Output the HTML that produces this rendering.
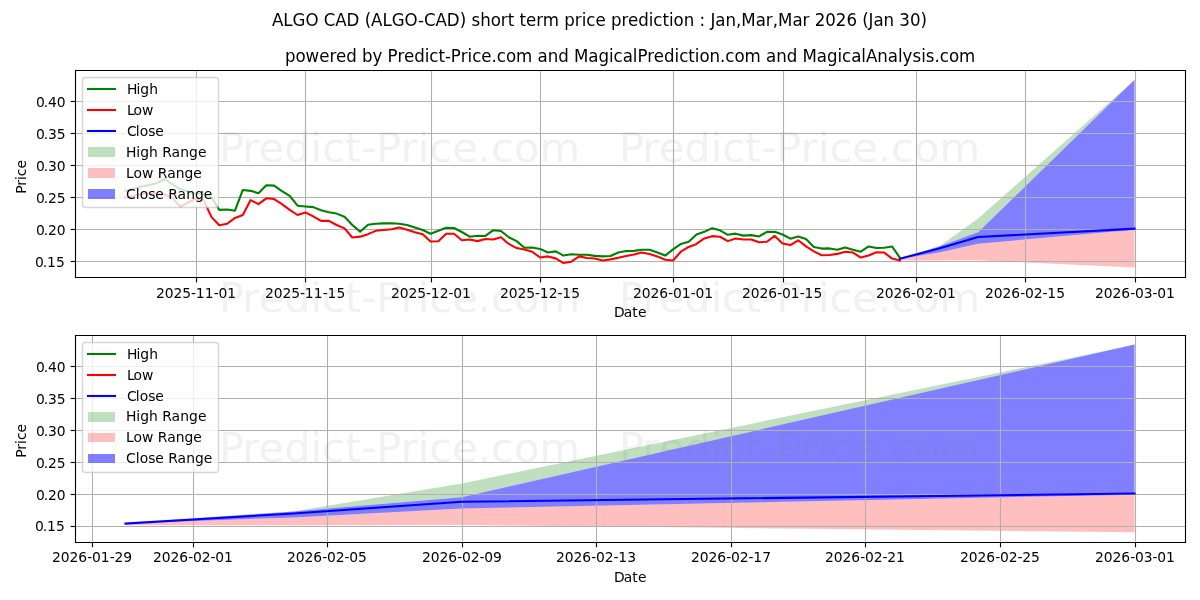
<!DOCTYPE html>
<html lang="en">
<head>
<meta charset="utf-8">
<title>ALGO CAD (ALGO-CAD) short term price prediction</title>
<style>html,body{margin:0;padding:0;background:#fff;}body{width:1200px;height:600px;overflow:hidden;font-family:"DejaVu Sans","Liberation Sans",sans-serif;}svg text{font-family:"DejaVu Sans","Liberation Sans",sans-serif;}</style>
</head>
<body>
<svg width="1200" height="600" viewBox="0 0 864 432" style="display:block">
 <defs>
  <style type="text/css">*{stroke-linejoin: round; stroke-linecap: butt}</style>
 </defs>
 <g id="figure_1">
  <g id="patch_1">
   <path d="M 0 432 L 864 432 L 864 0 L 0 0 z" style="fill: #ffffff"/>
  </g>
  <g id="axes_1">
   <g id="patch_2">
    <path d="M 54 199.44 L 853.2 199.44 L 853.2 50.4 L 54 50.4 z" style="fill: #ffffff"/>
   </g>
   <g id="FillBetweenPolyCollection_1">
    <path d="M 647.913805 185.564082 
L 647.913805 186.299864 
L 676.073777 177.516463 
L 704.233749 167.307483 
L 816.873636 57.4 
L 816.873636 57.537959 
L 816.873636 57.537959 
L 704.233749 157.374422 
L 676.073777 177.516463 
L 647.913805 185.564082 
z
" clip-path="url(#p9297a73124)" style="fill: #008000; fill-opacity: 0.25"/>
   </g>
   <g id="FillBetweenPolyCollection_2">
    <path d="M 647.913805 186.299864 
L 647.913805 187.587483 
L 676.073777 187.587483 
L 704.233749 187.311565 
L 816.873636 192.6 
L 816.873636 165.468027 
L 816.873636 165.468027 
L 704.233749 175.493061 
L 676.073777 181.839184 
L 647.913805 186.299864 
z
" clip-path="url(#p9297a73124)" style="fill: #ff0000; fill-opacity: 0.25"/>
   </g>
   <g id="FillBetweenPolyCollection_3">
    <path d="M 647.913805 186.299864 
L 647.913805 186.299864 
L 676.073777 181.839184 
L 704.233749 175.493061 
L 816.873636 165.468027 
L 816.873636 57.4 
L 816.873636 57.4 
L 704.233749 167.307483 
L 676.073777 177.516463 
L 647.913805 186.299864 
z
" clip-path="url(#p9297a73124)" style="fill: #0000ff; fill-opacity: 0.5"/>
   </g>
   <g id="matplotlib.axis_1">
    <g id="xtick_1">
     <g id="line2d_1">
      <path d="M 141.48 199.8 L 141.48 50.76" clip-path="url(#p9297a73124)" style="fill: none; stroke: #b0b0b0; stroke-width: 0.8; stroke-linecap: square"/>
     </g>
     <g id="line2d_2">
      <defs>
       <path id="m52d849d414" d="M 0 0 
L 0 3.5 
" style="stroke: #000000; stroke-width: 0.8"/>
      </defs>
      <g>
       <use href="#m52d849d414" x="141.48" y="199.8" style="stroke: #000000; stroke-width: 0.8"/>
      </g>
     </g>
     <g id="text_1">
      <text style="font-size: 10px; font-family: 'DejaVu Sans', 'Liberation Sans', sans-serif; text-anchor: start" transform="translate(112.32 214.56) scale(1 1)" x="0 6.3 12.6 18.9 25.2 28.71 35.1 41.49 45 51.3" y="0">2025-11-01</text>
     </g>
    </g>
    <g id="xtick_2">
     <g id="line2d_3">
      <path d="M 219.96 199.8 L 219.96 50.76" clip-path="url(#p9297a73124)" style="fill: none; stroke: #b0b0b0; stroke-width: 0.8; stroke-linecap: square"/>
     </g>
     <g id="line2d_4">
      <g>
       <use href="#m52d849d414" x="219.96" y="199.8" style="stroke: #000000; stroke-width: 0.8"/>
      </g>
     </g>
     <g id="text_2">
      <text style="font-size: 10px; font-family: 'DejaVu Sans', 'Liberation Sans', sans-serif; text-anchor: start" transform="translate(190.8 214.56) scale(1 1)" x="0 6.3 12.6 18.9 25.2 28.71 35.1 41.49 45 51.39" y="0">2025-11-15</text>
     </g>
    </g>
    <g id="xtick_3">
     <g id="line2d_5">
      <path d="M 310.68 199.8 L 310.68 50.76" clip-path="url(#p9297a73124)" style="fill: none; stroke: #b0b0b0; stroke-width: 0.8; stroke-linecap: square"/>
     </g>
     <g id="line2d_6">
      <g>
       <use href="#m52d849d414" x="310.68" y="199.8" style="stroke: #000000; stroke-width: 0.8"/>
      </g>
     </g>
     <g id="text_3">
      <text style="font-size: 10px; font-family: 'DejaVu Sans', 'Liberation Sans', sans-serif; text-anchor: start" transform="translate(281.52 214.56) scale(1 1)" x="0 6.3 12.6 18.9 25.2 28.71 35.1 41.4 44.91 51.21" y="0">2025-12-01</text>
     </g>
    </g>
    <g id="xtick_4">
     <g id="line2d_7">
      <path d="M 389.16 199.8 L 389.16 50.76" clip-path="url(#p9297a73124)" style="fill: none; stroke: #b0b0b0; stroke-width: 0.8; stroke-linecap: square"/>
     </g>
     <g id="line2d_8">
      <g>
       <use href="#m52d849d414" x="389.16" y="199.8" style="stroke: #000000; stroke-width: 0.8"/>
      </g>
     </g>
     <g id="text_4">
      <text style="font-size: 10px; font-family: 'DejaVu Sans', 'Liberation Sans', sans-serif; text-anchor: start" transform="translate(360 214.56) scale(1 1)" x="0 6.3 12.6 18.9 25.2 28.71 35.1 41.4 44.91 51.3" y="0">2025-12-15</text>
     </g>
    </g>
    <g id="xtick_5">
     <g id="line2d_9">
      <path d="M 484.92 199.8 L 484.92 50.76" clip-path="url(#p9297a73124)" style="fill: none; stroke: #b0b0b0; stroke-width: 0.8; stroke-linecap: square"/>
     </g>
     <g id="line2d_10">
      <g>
       <use href="#m52d849d414" x="484.92" y="199.8" style="stroke: #000000; stroke-width: 0.8"/>
      </g>
     </g>
     <g id="text_5">
      <text style="font-size: 10px; font-family: 'DejaVu Sans', 'Liberation Sans', sans-serif; text-anchor: start" transform="translate(455.76 214.56) scale(1 1)" x="0 6.3 12.6 18.9 25.29 28.8 35.1 41.49 45 51.3" y="0">2026-01-01</text>
     </g>
    </g>
    <g id="xtick_6">
     <g id="line2d_11">
      <path d="M 564.12 199.8 L 564.12 50.76" clip-path="url(#p9297a73124)" style="fill: none; stroke: #b0b0b0; stroke-width: 0.8; stroke-linecap: square"/>
     </g>
     <g id="line2d_12">
      <g>
       <use href="#m52d849d414" x="564.12" y="199.8" style="stroke: #000000; stroke-width: 0.8"/>
      </g>
     </g>
     <g id="text_6">
      <text style="font-size: 10px; font-family: 'DejaVu Sans', 'Liberation Sans', sans-serif; text-anchor: start" transform="translate(534.24 214.56) scale(1 1)" x="0 6.3 12.6 18.9 25.29 28.8 35.1 41.49 45 51.39" y="0">2026-01-15</text>
     </g>
    </g>
    <g id="xtick_7">
     <g id="line2d_13">
      <path d="M 659.88 199.8 L 659.88 50.76" clip-path="url(#p9297a73124)" style="fill: none; stroke: #b0b0b0; stroke-width: 0.8; stroke-linecap: square"/>
     </g>
     <g id="line2d_14">
      <g>
       <use href="#m52d849d414" x="659.88" y="199.8" style="stroke: #000000; stroke-width: 0.8"/>
      </g>
     </g>
     <g id="text_7">
      <text style="font-size: 10px; font-family: 'DejaVu Sans', 'Liberation Sans', sans-serif; text-anchor: start" transform="translate(630.72 214.56) scale(1 1)" x="0 6.3 12.6 18.9 25.29 28.8 35.1 41.4 44.91 51.21" y="0">2026-02-01</text>
     </g>
    </g>
    <g id="xtick_8">
     <g id="line2d_15">
      <path d="M 738.36 199.8 L 738.36 50.76" clip-path="url(#p9297a73124)" style="fill: none; stroke: #b0b0b0; stroke-width: 0.8; stroke-linecap: square"/>
     </g>
     <g id="line2d_16">
      <g>
       <use href="#m52d849d414" x="738.36" y="199.8" style="stroke: #000000; stroke-width: 0.8"/>
      </g>
     </g>
     <g id="text_8">
      <text style="font-size: 10px; font-family: 'DejaVu Sans', 'Liberation Sans', sans-serif; text-anchor: start" transform="translate(709.2 214.56) scale(1 1)" x="0 6.3 12.6 18.9 25.29 28.8 35.1 41.4 44.91 51.3" y="0">2026-02-15</text>
     </g>
    </g>
    <g id="xtick_9">
     <g id="line2d_17">
      <path d="M 817.56 199.8 L 817.56 50.76" clip-path="url(#p9297a73124)" style="fill: none; stroke: #b0b0b0; stroke-width: 0.8; stroke-linecap: square"/>
     </g>
     <g id="line2d_18">
      <g>
       <use href="#m52d849d414" x="817.56" y="199.8" style="stroke: #000000; stroke-width: 0.8"/>
      </g>
     </g>
     <g id="text_9">
      <text style="font-size: 10px; font-family: 'DejaVu Sans', 'Liberation Sans', sans-serif; text-anchor: start" transform="translate(788.4 214.56) scale(1 1)" x="0 6.3 12.6 18.9 25.29 28.8 35.1 41.4 44.91 51.21" y="0">2026-03-01</text>
     </g>
    </g>
    <g id="text_10">
     <text style="font-size: 10px; font-family: 'DejaVu Sans', 'Liberation Sans', sans-serif; text-anchor: start" transform="translate(442.08 228.24) scale(1 1)" x="0 7.02 13.23 17.19" y="0">Date</text>
    </g>
   </g>
   <g id="matplotlib.axis_2">
    <g id="ytick_1">
     <g id="line2d_19">
      <path d="M 54.36 188.28 L 853.56 188.28" clip-path="url(#p9297a73124)" style="fill: none; stroke: #b0b0b0; stroke-width: 0.8; stroke-linecap: square"/>
     </g>
     <g id="line2d_20">
      <defs>
       <path id="m7fc33ab114" d="M 0 0 
L -3.5 0 
" style="stroke: #000000; stroke-width: 0.8"/>
      </defs>
      <g>
       <use href="#m7fc33ab114" x="54.36" y="188.28" style="stroke: #000000; stroke-width: 0.8"/>
      </g>
     </g>
     <g id="text_11">
      <text style="font-size: 10px; font-family: 'DejaVu Sans', 'Liberation Sans', sans-serif; text-anchor: start" transform="translate(25.2 192.24) scale(1 1)" x="0 5.58 8.73 15.12" y="0">0.15</text>
     </g>
    </g>
    <g id="ytick_2">
     <g id="line2d_21">
      <path d="M 54.36 165.24 L 853.56 165.24" clip-path="url(#p9297a73124)" style="fill: none; stroke: #b0b0b0; stroke-width: 0.8; stroke-linecap: square"/>
     </g>
     <g id="line2d_22">
      <g>
       <use href="#m7fc33ab114" x="54.36" y="165.24" style="stroke: #000000; stroke-width: 0.8"/>
      </g>
     </g>
     <g id="text_12">
      <text style="font-size: 10px; font-family: 'DejaVu Sans', 'Liberation Sans', sans-serif; text-anchor: start" transform="translate(25.92 169.2) scale(1 1)" x="0 5.58 8.73 15.03" y="0">0.20</text>
     </g>
    </g>
    <g id="ytick_3">
     <g id="line2d_23">
      <path d="M 54.36 142.2 L 853.56 142.2" clip-path="url(#p9297a73124)" style="fill: none; stroke: #b0b0b0; stroke-width: 0.8; stroke-linecap: square"/>
     </g>
     <g id="line2d_24">
      <g>
       <use href="#m7fc33ab114" x="54.36" y="142.2" style="stroke: #000000; stroke-width: 0.8"/>
      </g>
     </g>
     <g id="text_13">
      <text style="font-size: 10px; font-family: 'DejaVu Sans', 'Liberation Sans', sans-serif; text-anchor: start" transform="translate(25.92 146.16) scale(1 1)" x="0 5.58 8.73 15.03" y="0">0.25</text>
     </g>
    </g>
    <g id="ytick_4">
     <g id="line2d_25">
      <path d="M 54.36 119.16 L 853.56 119.16" clip-path="url(#p9297a73124)" style="fill: none; stroke: #b0b0b0; stroke-width: 0.8; stroke-linecap: square"/>
     </g>
     <g id="line2d_26">
      <g>
       <use href="#m7fc33ab114" x="54.36" y="119.16" style="stroke: #000000; stroke-width: 0.8"/>
      </g>
     </g>
     <g id="text_14">
      <text style="font-size: 10px; font-family: 'DejaVu Sans', 'Liberation Sans', sans-serif; text-anchor: start" transform="translate(25.92 123.12) scale(1 1)" x="0 5.58 8.73 15.03" y="0">0.30</text>
     </g>
    </g>
    <g id="ytick_5">
     <g id="line2d_27">
      <path d="M 54.36 96.12 L 853.56 96.12" clip-path="url(#p9297a73124)" style="fill: none; stroke: #b0b0b0; stroke-width: 0.8; stroke-linecap: square"/>
     </g>
     <g id="line2d_28">
      <g>
       <use href="#m7fc33ab114" x="54.36" y="96.12" style="stroke: #000000; stroke-width: 0.8"/>
      </g>
     </g>
     <g id="text_15">
      <text style="font-size: 10px; font-family: 'DejaVu Sans', 'Liberation Sans', sans-serif; text-anchor: start" transform="translate(25.92 100.08) scale(1 1)" x="0 5.58 8.73 15.03" y="0">0.35</text>
     </g>
    </g>
    <g id="ytick_6">
     <g id="line2d_29">
      <path d="M 54.36 73.08 L 853.56 73.08" clip-path="url(#p9297a73124)" style="fill: none; stroke: #b0b0b0; stroke-width: 0.8; stroke-linecap: square"/>
     </g>
     <g id="line2d_30">
      <g>
       <use href="#m7fc33ab114" x="54.36" y="73.08" style="stroke: #000000; stroke-width: 0.8"/>
      </g>
     </g>
     <g id="text_16">
      <text style="font-size: 10px; font-family: 'DejaVu Sans', 'Liberation Sans', sans-serif; text-anchor: start" transform="translate(25.92 77.04) scale(1 1)" x="0 5.58 8.73 15.03" y="0">0.40</text>
     </g>
    </g>
    <g id="text_17">
     <text style="font-size: 10px; font-family: 'DejaVu Sans', 'Liberation Sans', sans-serif; text-anchor: middle" x="18.72" y="127.375949" transform="rotate(-90 18.72 127.375949)">Price</text>
    </g>
   </g>
   <g id="line2d_31">
    <path d="M 90.346364 137.416327 
L 95.978358 136.128707 
L 101.610352 134.335238 
L 107.242347 133.277551 
L 112.874341 131.897959 
L 118.506335 128.908844 
L 124.13833 132.817687 
L 129.770324 136.128707 
L 135.402319 137.922177 
L 141.034313 139.439728 
L 146.666307 140.037551 
L 152.298302 142.152925 
L 157.930296 151.120272 
L 163.56229 150.89034 
L 169.194285 151.718095 
L 174.826279 136.772517 
L 180.458273 137.416327 
L 186.090268 139.071837 
L 191.722262 133.41551 
L 197.354257 133.645442 
L 202.986251 137.600272 
L 208.618245 141.003265 
L 214.25024 148.08517 
L 219.882234 148.637007 
L 225.514228 149.142857 
L 231.146223 151.350204 
L 236.778217 152.775782 
L 242.410211 153.787483 
L 248.042206 156.086803 
L 253.6742 162.019048 
L 259.306195 166.801633 
L 264.938189 161.789116 
L 270.570183 161.053333 
L 276.202178 160.823401 
L 281.834172 160.731429 
L 287.466166 161.053333 
L 293.098161 162.019048 
L 298.730155 163.812517 
L 304.362149 165.605986 
L 309.994144 168.319184 
L 315.626138 166.20381 
L 321.258132 163.950476 
L 326.890127 164.180408 
L 332.522121 167.031565 
L 338.154116 170.434558 
L 343.78611 169.790748 
L 349.418104 169.882721 
L 355.050099 165.835918 
L 360.682093 166.341769 
L 366.314087 170.848435 
L 371.946082 173.607619 
L 377.578076 178.390204 
L 383.21007 178.160272 
L 388.842065 179.217959 
L 394.474059 181.839184 
L 400.106054 181.011429 
L 405.738048 184.000544 
L 411.370042 183.03483 
L 417.002037 183.402721 
L 422.634031 183.402721 
L 428.266025 184.230476 
L 433.89802 184.598367 
L 439.530014 184.368435 
L 445.162008 181.839184 
L 450.794003 180.781497 
L 456.425997 180.643537 
L 462.057992 179.815782 
L 467.689986 179.815782 
L 473.32198 181.839184 
L 478.953975 184.000544 
L 484.585969 179.58585 
L 490.217963 175.63102 
L 495.849958 174.067483 
L 501.481952 168.825034 
L 507.113946 166.939592 
L 512.745941 164.272381 
L 518.377935 165.835918 
L 524.00993 169.054966 
L 529.641924 168.227211 
L 535.273918 169.652789 
L 540.905913 169.284898 
L 546.537907 170.250612 
L 552.169901 166.939592 
L 557.801896 166.939592 
L 563.43389 168.825034 
L 569.065884 171.81415 
L 574.697879 170.250612 
L 580.329873 172.044082 
L 585.961868 177.792381 
L 591.593862 178.988027 
L 597.225856 178.850068 
L 602.857851 179.815782 
L 608.489845 178.160272 
L 614.121839 179.815782 
L 619.753834 181.241361 
L 625.385828 177.42449 
L 631.017822 178.620136 
L 636.649817 178.390204 
L 642.281811 177.42449 
L 647.913805 185.564082 
" clip-path="url(#p9297a73124)" style="fill: none; stroke: #008000; stroke-width: 1.5; stroke-linecap: square"/>
   </g>
   <g id="line2d_32">
    <path d="M 90.346364 142.152925 
L 95.978358 141.095238 
L 101.610352 139.715646 
L 107.242347 139.255782 
L 112.874341 139.945578 
L 118.506335 140.037551 
L 124.13833 142.47483 
L 129.770324 148.774966 
L 135.402319 145.78585 
L 141.034313 143.026667 
L 146.666307 144.268299 
L 152.298302 156.316735 
L 157.930296 162.11102 
L 163.56229 161.09932 
L 169.194285 156.914558 
L 174.826279 154.753197 
L 180.458273 144.038367 
L 186.090268 147.027483 
L 191.722262 142.796735 
L 197.354257 143.302585 
L 202.986251 146.93551 
L 208.618245 151.120272 
L 214.25024 154.799184 
L 219.882234 152.959728 
L 225.514228 155.810884 
L 231.146223 159.029932 
L 236.778217 159.029932 
L 242.410211 162.019048 
L 248.042206 164.41034 
L 253.6742 170.986395 
L 259.306195 170.388571 
L 264.938189 168.595102 
L 270.570183 166.20381 
L 276.202178 165.605986 
L 281.834172 165.008163 
L 287.466166 163.812517 
L 293.098161 165.376054 
L 298.730155 167.169524 
L 304.362149 168.595102 
L 309.994144 173.929524 
L 315.626138 173.699592 
L 321.258132 168.319184 
L 326.890127 168.319184 
L 332.522121 173.009796 
L 338.154116 172.457959 
L 343.78611 173.607619 
L 349.418104 172.090068 
L 355.050099 172.411973 
L 360.682093 170.848435 
L 366.314087 175.63102 
L 371.946082 178.620136 
L 377.578076 179.58585 
L 383.21007 181.241361 
L 388.842065 185.426122 
L 394.474059 184.598367 
L 400.106054 186.023946 
L 405.738048 189.380952 
L 411.370042 188.415238 
L 417.002037 184.598367 
L 422.634031 185.794014 
L 428.266025 186.161905 
L 433.89802 187.587483 
L 439.530014 186.759728 
L 445.162008 185.564082 
L 450.794003 184.368435 
L 456.425997 183.172789 
L 462.057992 181.839184 
L 467.689986 182.942857 
L 473.32198 184.598367 
L 478.953975 186.98966 
L 484.585969 187.587483 
L 490.217963 181.241361 
L 495.849958 177.792381 
L 501.481952 175.63102 
L 507.113946 171.67619 
L 512.745941 170.02068 
L 518.377935 170.480544 
L 524.00993 173.607619 
L 529.641924 171.67619 
L 535.273918 172.411973 
L 540.905913 172.411973 
L 546.537907 174.435374 
L 552.169901 174.067483 
L 557.801896 169.882721 
L 563.43389 175.263129 
L 569.065884 176.458776 
L 574.697879 173.009796 
L 580.329873 177.42449 
L 585.961868 181.011429 
L 591.593862 183.770612 
L 597.225856 183.632653 
L 602.857851 182.804898 
L 608.489845 181.241361 
L 614.121839 181.839184 
L 619.753834 185.426122 
L 625.385828 184.000544 
L 631.017822 181.609252 
L 636.649817 181.839184 
L 642.281811 186.161905 
L 647.913805 187.587483 
" clip-path="url(#p9297a73124)" style="fill: none; stroke: #ff0000; stroke-width: 1.5; stroke-linecap: square"/>
   </g>
   <g id="line2d_33">
    <path d="M 647.913805 186.299864 
L 676.073777 178.988027 
L 704.233749 170.618503 
L 816.873636 164.640272 
" clip-path="url(#p9297a73124)" style="fill: none; stroke: #0000ff; stroke-width: 1.5; stroke-linecap: square"/>
   </g>
   <g id="patch_3">
    <path d="M 54.36 199.8 L 54.36 50.76" style="fill: none; stroke: #000000; stroke-width: 0.8; stroke-linejoin: miter; stroke-linecap: square"/>
   </g>
   <g id="patch_4">
    <path d="M 853.56 199.8 L 853.56 50.76" style="fill: none; stroke: #000000; stroke-width: 0.8; stroke-linejoin: miter; stroke-linecap: square"/>
   </g>
   <g id="patch_5">
    <path d="M 54.36 199.8 L 853.56 199.8" style="fill: none; stroke: #000000; stroke-width: 0.8; stroke-linejoin: miter; stroke-linecap: square"/>
   </g>
   <g id="patch_6">
    <path d="M 54.36 50.76 L 853.56 50.76" style="fill: none; stroke: #000000; stroke-width: 0.8; stroke-linejoin: miter; stroke-linecap: square"/>
   </g>
   <g id="text_18">
    <text style="font-size: 12px; font-family: 'DejaVu Sans', 'Liberation Sans', sans-serif; text-anchor: start" transform="translate(205.2 44.64) scale(1 1.1)" x="0 7.56 14.85 24.66 32.04 36.72 44.1 51.66 55.44 63 70.11 73.89 81 85.68 93.06 100.62 103.95 110.52 115.2 119.43 126.54 131.49 134.82 141.39 148.77 152.55 159.12 166.41 178.11 181.89 189.18 196.74 204.3 208.08 218.43 225.72 233.28 236.61 243.18 250.47 253.8 260.91 265.59 272.97 280.53 283.86 290.43 295.11 298.44 305.73 313.29 317.07 323.64 330.93 342.63 346.41 353.7 361.26 368.82 372.6 382.95 390.24 397.8 401.13 407.7 414.99 418.32 426.51 434.07 441.36 444.69 451.8 458.1 461.43 467.73 471.51 478.08 485.37" y="0">powered by Predict-Price.com and MagicalPrediction.com and MagicalAnalysis.com</text>
   </g>
   <g id="legend_1">
    <g id="patch_7">
     <path d="M 61.56 149.4 
L 155.16 149.4 
Q 157.32 149.4 157.32 147.24 
L 157.32 57.96 
Q 157.32 55.8 155.16 55.8 
L 61.56 55.8 
Q 59.4 55.8 59.4 57.96 
L 59.4 147.24 
Q 59.4 149.4 61.56 149.4 
z
" style="fill: #ffffff; opacity: 0.8; stroke: #cccccc; stroke-linejoin: miter"/>
    </g>
    <g id="line2d_34">
     <path d="M 63.36 64.08 L 72.72 64.08 L 82.8 64.08" style="fill: none; stroke: #008000; stroke-width: 1.5; stroke-linecap: square"/>
    </g>
    <g id="text_19">
     <text style="font-size: 10px; font-family: 'DejaVu Sans', 'Liberation Sans', sans-serif; text-anchor: start" transform="translate(91.44 67.68) scale(1 1)" x="0 6.75 9.54 15.93" y="0">High</text>
    </g>
    <g id="line2d_35">
     <path d="M 63.36 79.2 L 72.72 79.2 L 82.8 79.2" style="fill: none; stroke: #ff0000; stroke-width: 1.5; stroke-linecap: square"/>
    </g>
    <g id="text_20">
     <text style="font-size: 10px; font-family: 'DejaVu Sans', 'Liberation Sans', sans-serif; text-anchor: start" transform="translate(91.44 82.8) scale(1 1)" x="0 4.68 10.8" y="0">Low</text>
    </g>
    <g id="line2d_36">
     <path d="M 63.36 94.32 L 72.72 94.32 L 82.8 94.32" style="fill: none; stroke: #0000ff; stroke-width: 1.5; stroke-linecap: square"/>
    </g>
    <g id="text_21">
     <text style="font-size: 10px; font-family: 'DejaVu Sans', 'Liberation Sans', sans-serif; text-anchor: start" transform="translate(91.44 97.92) scale(1 1)" x="0 6.3 9.09 15.21 20.34" y="0">Close</text>
    </g>
    <g id="patch_8">
     <path d="M 63.36 113.04 L 82.8 113.04 L 82.8 105.84 L 63.36 105.84 z" style="fill: #008000; fill-opacity: 0.25"/>
    </g>
    <g id="text_22">
     <text style="font-size: 10px; font-family: 'DejaVu Sans', 'Liberation Sans', sans-serif; text-anchor: start" transform="translate(90.72 113.04) scale(1 1)" x="0 7.47 10.26 16.65 22.95 26.1 32.85 39.06 45.36 51.75" y="0">High Range</text>
    </g>
    <g id="patch_9">
     <path d="M 63.36 128.16 L 82.8 128.16 L 82.8 120.96 L 63.36 120.96 z" style="fill: #ff0000; fill-opacity: 0.25"/>
    </g>
    <g id="text_23">
     <text style="font-size: 10px; font-family: 'DejaVu Sans', 'Liberation Sans', sans-serif; text-anchor: start" transform="translate(90.72 128.16) scale(1 1)" x="0 5.4 11.52 19.71 22.86 29.61 35.82 42.12 48.51" y="0">Low Range</text>
    </g>
    <g id="patch_10">
     <path d="M 63.36 143.28 L 82.8 143.28 L 82.8 136.08 L 63.36 136.08 z" style="fill: #0000ff; fill-opacity: 0.5"/>
    </g>
    <g id="text_24">
     <text style="font-size: 10px; font-family: 'DejaVu Sans', 'Liberation Sans', sans-serif; text-anchor: start" transform="translate(90.72 143.28) scale(1 1)" x="0 7.02 9.81 15.93 21.06 27.18 30.33 37.08 43.29 49.59 55.98" y="0">Close Range</text>
    </g>
   </g>
  </g>
  <g id="axes_2">
   <g id="patch_11">
    <path d="M 54 390.24 L 853.2 390.24 L 853.2 241.2 L 54 241.2 z" style="fill: #ffffff"/>
   </g>
   <g id="FillBetweenPolyCollection_4">
    <path d="M 90.346364 376.244082 
L 90.346364 376.979864 
L 211.434242 368.196463 
L 332.522121 357.987483 
L 816.873636 248.08 
L 816.873636 248.217959 
L 816.873636 248.217959 
L 332.522121 348.054422 
L 211.434242 368.196463 
L 90.346364 376.244082 
z
" clip-path="url(#p191f13d1ef)" style="fill: #008000; fill-opacity: 0.25"/>
   </g>
   <g id="FillBetweenPolyCollection_5">
    <path d="M 90.346364 376.979864 
L 90.346364 378.267483 
L 211.434242 378.267483 
L 332.522121 377.991565 
L 816.873636 383.28 
L 816.873636 356.148027 
L 816.873636 356.148027 
L 332.522121 366.173061 
L 211.434242 372.519184 
L 90.346364 376.979864 
z
" clip-path="url(#p191f13d1ef)" style="fill: #ff0000; fill-opacity: 0.25"/>
   </g>
   <g id="FillBetweenPolyCollection_6">
    <path d="M 90.346364 376.979864 
L 90.346364 376.979864 
L 211.434242 372.519184 
L 332.522121 366.173061 
L 816.873636 356.148027 
L 816.873636 248.08 
L 816.873636 248.08 
L 332.522121 357.987483 
L 211.434242 368.196463 
L 90.346364 376.979864 
z
" clip-path="url(#p191f13d1ef)" style="fill: #0000ff; fill-opacity: 0.5"/>
   </g>
   <g id="matplotlib.axis_3">
    <g id="xtick_10">
     <g id="line2d_37">
      <path d="M 66.6 390.6 L 66.6 241.56" clip-path="url(#p191f13d1ef)" style="fill: none; stroke: #b0b0b0; stroke-width: 0.8; stroke-linecap: square"/>
     </g>
     <g id="line2d_38">
      <g>
       <use href="#m52d849d414" x="66.6" y="390.6" style="stroke: #000000; stroke-width: 0.8"/>
      </g>
     </g>
     <g id="text_25">
      <text style="font-size: 10px; font-family: 'DejaVu Sans', 'Liberation Sans', sans-serif; text-anchor: start" transform="translate(37.44 404.64) scale(1 1)" x="0 6.3 12.6 18.9 25.29 28.8 35.1 41.49 45 51.3" y="0">2026-01-29</text>
     </g>
    </g>
    <g id="xtick_11">
     <g id="line2d_39">
      <path d="M 139.32 390.6 L 139.32 241.56" clip-path="url(#p191f13d1ef)" style="fill: none; stroke: #b0b0b0; stroke-width: 0.8; stroke-linecap: square"/>
     </g>
     <g id="line2d_40">
      <g>
       <use href="#m52d849d414" x="139.32" y="390.6" style="stroke: #000000; stroke-width: 0.8"/>
      </g>
     </g>
     <g id="text_26">
      <text style="font-size: 10px; font-family: 'DejaVu Sans', 'Liberation Sans', sans-serif; text-anchor: start" transform="translate(110.16 404.64) scale(1 1)" x="0 6.3 12.6 18.9 25.29 28.8 35.1 41.4 44.91 51.21" y="0">2026-02-01</text>
     </g>
    </g>
    <g id="xtick_12">
     <g id="line2d_41">
      <path d="M 235.8 390.6 L 235.8 241.56" clip-path="url(#p191f13d1ef)" style="fill: none; stroke: #b0b0b0; stroke-width: 0.8; stroke-linecap: square"/>
     </g>
     <g id="line2d_42">
      <g>
       <use href="#m52d849d414" x="235.8" y="390.6" style="stroke: #000000; stroke-width: 0.8"/>
      </g>
     </g>
     <g id="text_27">
      <text style="font-size: 10px; font-family: 'DejaVu Sans', 'Liberation Sans', sans-serif; text-anchor: start" transform="translate(206.64 404.64) scale(1 1)" x="0 6.3 12.6 18.9 25.29 28.8 35.1 41.4 44.91 51.21" y="0">2026-02-05</text>
     </g>
    </g>
    <g id="xtick_13">
     <g id="line2d_43">
      <path d="M 333 390.6 L 333 241.56" clip-path="url(#p191f13d1ef)" style="fill: none; stroke: #b0b0b0; stroke-width: 0.8; stroke-linecap: square"/>
     </g>
     <g id="line2d_44">
      <g>
       <use href="#m52d849d414" x="333" y="390.6" style="stroke: #000000; stroke-width: 0.8"/>
      </g>
     </g>
     <g id="text_28">
      <text style="font-size: 10px; font-family: 'DejaVu Sans', 'Liberation Sans', sans-serif; text-anchor: start" transform="translate(303.84 404.64) scale(1 1)" x="0 6.3 12.6 18.9 25.29 28.8 35.1 41.4 44.91 51.21" y="0">2026-02-09</text>
     </g>
    </g>
    <g id="xtick_14">
     <g id="line2d_45">
      <path d="M 429.48 390.6 L 429.48 241.56" clip-path="url(#p191f13d1ef)" style="fill: none; stroke: #b0b0b0; stroke-width: 0.8; stroke-linecap: square"/>
     </g>
     <g id="line2d_46">
      <g>
       <use href="#m52d849d414" x="429.48" y="390.6" style="stroke: #000000; stroke-width: 0.8"/>
      </g>
     </g>
     <g id="text_29">
      <text style="font-size: 10px; font-family: 'DejaVu Sans', 'Liberation Sans', sans-serif; text-anchor: start" transform="translate(400.32 404.64) scale(1 1)" x="0 6.3 12.6 18.9 25.29 28.8 35.1 41.4 44.91 51.3" y="0">2026-02-13</text>
     </g>
    </g>
    <g id="xtick_15">
     <g id="line2d_47">
      <path d="M 526.68 390.6 L 526.68 241.56" clip-path="url(#p191f13d1ef)" style="fill: none; stroke: #b0b0b0; stroke-width: 0.8; stroke-linecap: square"/>
     </g>
     <g id="line2d_48">
      <g>
       <use href="#m52d849d414" x="526.68" y="390.6" style="stroke: #000000; stroke-width: 0.8"/>
      </g>
     </g>
     <g id="text_30">
      <text style="font-size: 10px; font-family: 'DejaVu Sans', 'Liberation Sans', sans-serif; text-anchor: start" transform="translate(497.52 404.64) scale(1 1)" x="0 6.3 12.6 18.9 25.29 28.8 35.1 41.4 44.91 51.3" y="0">2026-02-17</text>
     </g>
    </g>
    <g id="xtick_16">
     <g id="line2d_49">
      <path d="M 623.16 390.6 L 623.16 241.56" clip-path="url(#p191f13d1ef)" style="fill: none; stroke: #b0b0b0; stroke-width: 0.8; stroke-linecap: square"/>
     </g>
     <g id="line2d_50">
      <g>
       <use href="#m52d849d414" x="623.16" y="390.6" style="stroke: #000000; stroke-width: 0.8"/>
      </g>
     </g>
     <g id="text_31">
      <text style="font-size: 10px; font-family: 'DejaVu Sans', 'Liberation Sans', sans-serif; text-anchor: start" transform="translate(594 404.64) scale(1 1)" x="0 6.3 12.6 18.9 25.29 28.8 35.1 41.4 44.91 51.21" y="0">2026-02-21</text>
     </g>
    </g>
    <g id="xtick_17">
     <g id="line2d_51">
      <path d="M 720.36 390.6 L 720.36 241.56" clip-path="url(#p191f13d1ef)" style="fill: none; stroke: #b0b0b0; stroke-width: 0.8; stroke-linecap: square"/>
     </g>
     <g id="line2d_52">
      <g>
       <use href="#m52d849d414" x="720.36" y="390.6" style="stroke: #000000; stroke-width: 0.8"/>
      </g>
     </g>
     <g id="text_32">
      <text style="font-size: 10px; font-family: 'DejaVu Sans', 'Liberation Sans', sans-serif; text-anchor: start" transform="translate(691.2 404.64) scale(1 1)" x="0 6.3 12.6 18.9 25.29 28.8 35.1 41.4 44.91 51.21" y="0">2026-02-25</text>
     </g>
    </g>
    <g id="xtick_18">
     <g id="line2d_53">
      <path d="M 817.56 390.6 L 817.56 241.56" clip-path="url(#p191f13d1ef)" style="fill: none; stroke: #b0b0b0; stroke-width: 0.8; stroke-linecap: square"/>
     </g>
     <g id="line2d_54">
      <g>
       <use href="#m52d849d414" x="817.56" y="390.6" style="stroke: #000000; stroke-width: 0.8"/>
      </g>
     </g>
     <g id="text_33">
      <text style="font-size: 10px; font-family: 'DejaVu Sans', 'Liberation Sans', sans-serif; text-anchor: start" transform="translate(788.4 404.64) scale(1 1)" x="0 6.3 12.6 18.9 25.29 28.8 35.1 41.4 44.91 51.21" y="0">2026-03-01</text>
     </g>
    </g>
    <g id="text_34">
     <text style="font-size: 10px; font-family: 'DejaVu Sans', 'Liberation Sans', sans-serif; text-anchor: start" transform="translate(442.08 419.04) scale(1 1)" x="0 7.02 13.23 17.19" y="0">Date</text>
    </g>
   </g>
   <g id="matplotlib.axis_4">
    <g id="ytick_7">
     <g id="line2d_55">
      <path d="M 54.36 379.08 L 853.56 379.08" clip-path="url(#p191f13d1ef)" style="fill: none; stroke: #b0b0b0; stroke-width: 0.8; stroke-linecap: square"/>
     </g>
     <g id="line2d_56">
      <g>
       <use href="#m7fc33ab114" x="54.36" y="379.08" style="stroke: #000000; stroke-width: 0.8"/>
      </g>
     </g>
     <g id="text_35">
      <text style="font-size: 10px; font-family: 'DejaVu Sans', 'Liberation Sans', sans-serif; text-anchor: start" transform="translate(25.2 382.32) scale(1 1)" x="0 5.58 8.73 15.12" y="0">0.15</text>
     </g>
    </g>
    <g id="ytick_8">
     <g id="line2d_57">
      <path d="M 54.36 356.04 L 853.56 356.04" clip-path="url(#p191f13d1ef)" style="fill: none; stroke: #b0b0b0; stroke-width: 0.8; stroke-linecap: square"/>
     </g>
     <g id="line2d_58">
      <g>
       <use href="#m7fc33ab114" x="54.36" y="356.04" style="stroke: #000000; stroke-width: 0.8"/>
      </g>
     </g>
     <g id="text_36">
      <text style="font-size: 10px; font-family: 'DejaVu Sans', 'Liberation Sans', sans-serif; text-anchor: start" transform="translate(25.92 360) scale(1 1)" x="0 5.58 8.73 15.03" y="0">0.20</text>
     </g>
    </g>
    <g id="ytick_9">
     <g id="line2d_59">
      <path d="M 54.36 333 L 853.56 333" clip-path="url(#p191f13d1ef)" style="fill: none; stroke: #b0b0b0; stroke-width: 0.8; stroke-linecap: square"/>
     </g>
     <g id="line2d_60">
      <g>
       <use href="#m7fc33ab114" x="54.36" y="333" style="stroke: #000000; stroke-width: 0.8"/>
      </g>
     </g>
     <g id="text_37">
      <text style="font-size: 10px; font-family: 'DejaVu Sans', 'Liberation Sans', sans-serif; text-anchor: start" transform="translate(25.92 336.96) scale(1 1)" x="0 5.58 8.73 15.03" y="0">0.25</text>
     </g>
    </g>
    <g id="ytick_10">
     <g id="line2d_61">
      <path d="M 54.36 309.96 L 853.56 309.96" clip-path="url(#p191f13d1ef)" style="fill: none; stroke: #b0b0b0; stroke-width: 0.8; stroke-linecap: square"/>
     </g>
     <g id="line2d_62">
      <g>
       <use href="#m7fc33ab114" x="54.36" y="309.96" style="stroke: #000000; stroke-width: 0.8"/>
      </g>
     </g>
     <g id="text_38">
      <text style="font-size: 10px; font-family: 'DejaVu Sans', 'Liberation Sans', sans-serif; text-anchor: start" transform="translate(25.92 313.92) scale(1 1)" x="0 5.58 8.73 15.03" y="0">0.30</text>
     </g>
    </g>
    <g id="ytick_11">
     <g id="line2d_63">
      <path d="M 54.36 286.92 L 853.56 286.92" clip-path="url(#p191f13d1ef)" style="fill: none; stroke: #b0b0b0; stroke-width: 0.8; stroke-linecap: square"/>
     </g>
     <g id="line2d_64">
      <g>
       <use href="#m7fc33ab114" x="54.36" y="286.92" style="stroke: #000000; stroke-width: 0.8"/>
      </g>
     </g>
     <g id="text_39">
      <text style="font-size: 10px; font-family: 'DejaVu Sans', 'Liberation Sans', sans-serif; text-anchor: start" transform="translate(25.92 290.88) scale(1 1)" x="0 5.58 8.73 15.03" y="0">0.35</text>
     </g>
    </g>
    <g id="ytick_12">
     <g id="line2d_65">
      <path d="M 54.36 263.88 L 853.56 263.88" clip-path="url(#p191f13d1ef)" style="fill: none; stroke: #b0b0b0; stroke-width: 0.8; stroke-linecap: square"/>
     </g>
     <g id="line2d_66">
      <g>
       <use href="#m7fc33ab114" x="54.36" y="263.88" style="stroke: #000000; stroke-width: 0.8"/>
      </g>
     </g>
     <g id="text_40">
      <text style="font-size: 10px; font-family: 'DejaVu Sans', 'Liberation Sans', sans-serif; text-anchor: start" transform="translate(25.92 267.84) scale(1 1)" x="0 5.58 8.73 15.03" y="0">0.40</text>
     </g>
    </g>
    <g id="text_41">
     <text style="font-size: 10px; font-family: 'DejaVu Sans', 'Liberation Sans', sans-serif; text-anchor: middle" x="18.72" y="317.407963" transform="rotate(-90 18.72 317.407963)">Price</text>
    </g>
   </g>
   <g id="line2d_67">
    <path clip-path="url(#p191f13d1ef)" style="fill: none; stroke: #008000; stroke-width: 1.5; stroke-linecap: square"/>
   </g>
   <g id="line2d_68">
    <path clip-path="url(#p191f13d1ef)" style="fill: none; stroke: #ff0000; stroke-width: 1.5; stroke-linecap: square"/>
   </g>
   <g id="line2d_69">
    <path d="M 90.346364 376.979864 
L 211.434242 369.668027 
L 332.522121 361.298503 
L 816.873636 355.320272 
" clip-path="url(#p191f13d1ef)" style="fill: none; stroke: #0000ff; stroke-width: 1.5; stroke-linecap: square"/>
   </g>
   <g id="patch_12">
    <path d="M 54.36 390.6 L 54.36 241.56" style="fill: none; stroke: #000000; stroke-width: 0.8; stroke-linejoin: miter; stroke-linecap: square"/>
   </g>
   <g id="patch_13">
    <path d="M 853.56 390.6 L 853.56 241.56" style="fill: none; stroke: #000000; stroke-width: 0.8; stroke-linejoin: miter; stroke-linecap: square"/>
   </g>
   <g id="patch_14">
    <path d="M 54.36 390.6 L 853.56 390.6" style="fill: none; stroke: #000000; stroke-width: 0.8; stroke-linejoin: miter; stroke-linecap: square"/>
   </g>
   <g id="patch_15">
    <path d="M 54.36 241.56 L 853.56 241.56" style="fill: none; stroke: #000000; stroke-width: 0.8; stroke-linejoin: miter; stroke-linecap: square"/>
   </g>
   <g id="legend_2">
    <g id="patch_16">
     <path d="M 61.56 340.2 
L 155.16 340.2 
Q 157.32 340.2 157.32 338.04 
L 157.32 248.76 
Q 157.32 246.6 155.16 246.6 
L 61.56 246.6 
Q 59.4 246.6 59.4 248.76 
L 59.4 338.04 
Q 59.4 340.2 61.56 340.2 
z
" style="fill: #ffffff; opacity: 0.8; stroke: #cccccc; stroke-linejoin: miter"/>
    </g>
    <g id="line2d_70">
     <path d="M 63.36 254.88 L 72.72 254.88 L 82.8 254.88" style="fill: none; stroke: #008000; stroke-width: 1.5; stroke-linecap: square"/>
    </g>
    <g id="text_42">
     <text style="font-size: 10px; font-family: 'DejaVu Sans', 'Liberation Sans', sans-serif; text-anchor: start" transform="translate(91.44 258.48) scale(1 1)" x="0 6.75 9.54 15.93" y="0">High</text>
    </g>
    <g id="line2d_71">
     <path d="M 63.36 270 L 72.72 270 L 82.8 270" style="fill: none; stroke: #ff0000; stroke-width: 1.5; stroke-linecap: square"/>
    </g>
    <g id="text_43">
     <text style="font-size: 10px; font-family: 'DejaVu Sans', 'Liberation Sans', sans-serif; text-anchor: start" transform="translate(91.44 273.6) scale(1 1)" x="0 4.68 10.8" y="0">Low</text>
    </g>
    <g id="line2d_72">
     <path d="M 63.36 285.12 L 72.72 285.12 L 82.8 285.12" style="fill: none; stroke: #0000ff; stroke-width: 1.5; stroke-linecap: square"/>
    </g>
    <g id="text_44">
     <text style="font-size: 10px; font-family: 'DejaVu Sans', 'Liberation Sans', sans-serif; text-anchor: start" transform="translate(91.44 288.72) scale(1 1)" x="0 6.3 9.09 15.21 20.34" y="0">Close</text>
    </g>
    <g id="patch_17">
     <path d="M 63.36 303.84 L 82.8 303.84 L 82.8 296.64 L 63.36 296.64 z" style="fill: #008000; fill-opacity: 0.25"/>
    </g>
    <g id="text_45">
     <text style="font-size: 10px; font-family: 'DejaVu Sans', 'Liberation Sans', sans-serif; text-anchor: start" transform="translate(90.72 303.12) scale(1 1)" x="0 7.47 10.26 16.65 22.95 26.1 32.85 39.06 45.36 51.75" y="0">High Range</text>
    </g>
    <g id="patch_18">
     <path d="M 63.36 318.24 L 82.8 318.24 L 82.8 311.76 L 63.36 311.76 z" style="fill: #ff0000; fill-opacity: 0.25"/>
    </g>
    <g id="text_46">
     <text style="font-size: 10px; font-family: 'DejaVu Sans', 'Liberation Sans', sans-serif; text-anchor: start" transform="translate(90.72 318.24) scale(1 1)" x="0 5.4 11.52 19.71 22.86 29.61 35.82 42.12 48.51" y="0">Low Range</text>
    </g>
    <g id="patch_19">
     <path d="M 63.36 333.36 L 82.8 333.36 L 82.8 326.88 L 63.36 326.88 z" style="fill: #0000ff; fill-opacity: 0.5"/>
    </g>
    <g id="text_47">
     <text style="font-size: 10px; font-family: 'DejaVu Sans', 'Liberation Sans', sans-serif; text-anchor: start" transform="translate(90.72 333.36) scale(1 1)" x="0 7.02 9.81 15.93 21.06 27.18 30.33 37.08 43.29 49.59 55.98" y="0">Close Range</text>
    </g>
   </g>
  </g>
  <g id="text_48">
   <text style="font-size: 12px; font-family: 'DejaVu Sans', 'Liberation Sans', sans-serif; text-anchor: start" transform="translate(195.84 18.72) scale(1 1.1)" x="0 8.19 14.85 24.12 33.48 37.26 45.54 53.73 63 66.78 71.37 79.56 86.22 95.49 105.21 109.44 117.72 125.91 135.18 139.86 143.64 149.94 157.5 164.79 169.74 174.42 178.2 182.88 190.26 195.03 206.73 210.51 218.07 223.02 226.35 232.92 240.3 244.08 251.64 256.32 263.7 271.26 274.59 281.16 285.84 289.17 296.46 304.02 307.8 311.94 315.72 319.23 326.52 334.08 337.95 348.3 355.59 360.54 364.41 374.76 382.05 387 390.78 398.43 405.99 413.64 421.2 424.98 429.57 433.08 440.37 447.93 451.71 459.36 466.92" y="0">ALGO CAD (ALGO-CAD) short term price prediction : Jan,Mar,Mar 2026 (Jan 30)</text>
  </g>
  <g id="text_49">
   <text style="font-size: 30px; font-family: 'DejaVu Sans', 'Liberation Sans', sans-serif; text-anchor: start; fill: #808080; opacity: 0.1" transform="translate(157.68 116.64) scale(1 1)" x="0 16.83 28.53 46.98 65.97 74.25 90.72 102.51 113.31 130.86 143.19 151.47 167.94 186.39 195.93 212.4 230.67" y="0">Predict-Price.com</text>
  </g>
  <g id="text_50">
   <text style="font-size: 30px; font-family: 'DejaVu Sans', 'Liberation Sans', sans-serif; text-anchor: start; fill: #808080; opacity: 0.1" transform="translate(445.68 116.64) scale(1 1)" x="0 16.83 28.53 46.98 65.97 74.25 90.72 102.51 113.31 130.86 143.19 151.47 167.94 186.39 195.93 212.4 230.67" y="0">Predict-Price.com</text>
  </g>
  <g id="text_51">
   <text style="font-size: 30px; font-family: 'DejaVu Sans', 'Liberation Sans', sans-serif; text-anchor: start; fill: #808080; opacity: 0.1" transform="translate(157.68 224.64) scale(1 1)" x="0 16.83 28.53 46.98 65.97 74.25 90.72 102.51 113.31 130.86 143.19 151.47 167.94 186.39 195.93 212.4 230.67" y="0">Predict-Price.com</text>
  </g>
  <g id="text_52">
   <text style="font-size: 30px; font-family: 'DejaVu Sans', 'Liberation Sans', sans-serif; text-anchor: start; fill: #808080; opacity: 0.1" transform="translate(445.68 224.64) scale(1 1)" x="0 16.83 28.53 46.98 65.97 74.25 90.72 102.51 113.31 130.86 143.19 151.47 167.94 186.39 195.93 212.4 230.67" y="0">Predict-Price.com</text>
  </g>
  <g id="text_53">
   <text style="font-size: 30px; font-family: 'DejaVu Sans', 'Liberation Sans', sans-serif; text-anchor: start; fill: #808080; opacity: 0.1" transform="translate(157.68 332.64) scale(1 1)" x="0 16.83 28.53 46.98 65.97 74.25 90.72 102.51 113.31 130.86 143.19 151.47 167.94 186.39 195.93 212.4 230.67" y="0">Predict-Price.com</text>
  </g>
  <g id="text_54">
   <text style="font-size: 30px; font-family: 'DejaVu Sans', 'Liberation Sans', sans-serif; text-anchor: start; fill: #808080; opacity: 0.1" transform="translate(445.68 332.64) scale(1 1)" x="0 16.83 28.53 46.98 65.97 74.25 90.72 102.51 113.31 130.86 143.19 151.47 167.94 186.39 195.93 212.4 230.67" y="0">Predict-Price.com</text>
  </g>
 </g>
 <defs>
  <clipPath id="p9297a73124">
   <rect x="54.02" y="50.64" width="799.18" height="148.72"/>
  </clipPath>
  <clipPath id="p191f13d1ef">
   <rect x="54.02" y="241.32" width="799.18" height="148.72"/>
  </clipPath>
 </defs>
</svg>

</body>
</html>
